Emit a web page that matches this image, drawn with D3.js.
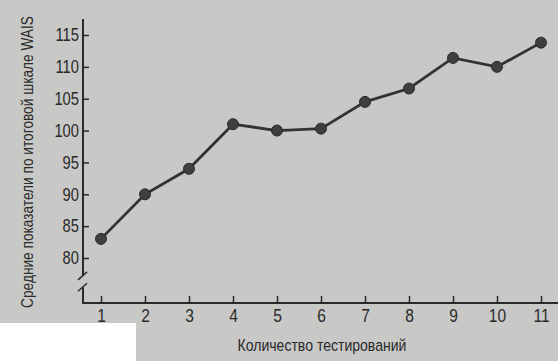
<!DOCTYPE html>
<html>

<head>
    <meta charset="utf-8">
    <style>
        body {
            margin: 0;
            background: #c8c8c6;
        }

        svg {
            display: block;
            font-family: 'Liberation Sans', Arial, sans-serif;
        }

        .y .domain,
        .x .domain {
            display: none;
        }

        .tick line {
            stroke: #2a2a2a;
            stroke-width: 1.5px;
        }

        .y .tick text {
            font-size: 18px;
            fill: #2a2a2a;
        }

        .x .tick text {
            font-size: 19px;
            fill: #2a2a2a;
        }

        .label {
            font-size: 17px;
            fill: #2a2a2a;
        }
    </style>
</head>

<body>
    <svg width="558" height="361"></svg>
</body>

<script src="https://d3js.org/d3.v7.min.js"></script>

<script>
    // Количество тестирований
    let tests = [1, 2, 3, 4, 5, 6, 7, 8, 9, 10, 11]
    // Средние показатели WAIS
    let scores = [83, 90, 94, 101, 100, 100.3, 104.5, 106.6, 111.4, 110, 113.8]
    let yTicks = [80, 85, 90, 95, 100, 105, 110, 115]

    let data = tests.map(function (t, i) {
        return { test: t, score: scores[i] }
    })

    let svg = d3.select("svg")

    // white corner of the scanned page
    svg.append("rect")
        .attr("x", 0)
        .attr("y", 323)
        .attr("width", 136)
        .attr("height", 38)
        .attr("fill", "#ffffff")

    let axisX = 83
    let axisY = 303
    let narrow = 0.82 // squeeze text to look like a narrow typeface

    let x = d3.scaleLinear()
        .domain([1, 11])
        .range([101, 541])

    let y = d3.scaleLinear()
        .domain([80, 115])
        .range([258, 35])

    let yAxisSettings = d3.axisLeft(y)
        .tickValues(yTicks)
        .tickSize(-6) // ticks point inside
        .tickPadding(5)

    let xAxisSettings = d3.axisBottom(x)
        .tickValues(tests)
        .tickSize(-7)
        .tickPadding(6)
        .tickFormat(d3.format("d"))

    let yAxisTicks = svg.append("g")
        .attr("class", "y axis")
        .attr("transform", `translate(${axisX},0)`)
        .call(yAxisSettings)

    yAxisTicks.selectAll(".tick text")
        .attr("x", -4 / narrow)
        .attr("transform", `scale(${narrow},1)`)

    let xAxisTicks = svg.append("g")
        .attr("class", "x axis")
        .attr("transform", `translate(0,${axisY})`)
        .call(xAxisSettings)

    xAxisTicks.selectAll(".tick text")
        .attr("transform", `scale(${narrow},1)`)

    // axis lines with a break below 80
    let axisLines = svg.append("g")
        .attr("stroke", "#2a2a2a")
        .attr("stroke-width", 2)
        .attr("fill", "none")

    let breakTop = y(77.2)
    let breakBottom = y(75.4)

    axisLines.append("path")
        .attr("d", `M${axisX},${y(117.5)}V${breakTop}`)
    axisLines.append("path")
        .attr("d", `M${axisX},${breakBottom}V${axisY}H558`)
    axisLines.append("path")
        .attr("d", `M${axisX - 5},${breakTop + 4}L${axisX + 4},${breakTop - 4}`)
        .attr("stroke-width", 1.5)
    axisLines.append("path")
        .attr("d", `M${axisX - 5},${breakBottom + 4}L${axisX + 4},${breakBottom - 4}`)
        .attr("stroke-width", 1.5)

    let line = d3.line()
        .x(function (d) { return x(d.test) })
        .y(function (d) { return y(d.score) })

    svg.append("path")
        .datum(data)
        .attr("d", line)
        .style("fill", "none")
        .style("stroke", "#333")
        .style("stroke-width", "2.8px")

    svg.append("g")
        .selectAll("circle")
        .data(data)
        .join("circle")
        .attr("cx", d => x(d.test))
        .attr("cy", d => y(d.score))
        .attr("r", 5.5)
        .attr("fill", "#3f3f3f")
        .attr("stroke", "#2a2a2a")
        .attr("stroke-width", 1)

    // axis titles, squeezed to the width they have in the original
    let xTitle = svg.append("text")
        .attr("class", "label")
        .attr("text-anchor", "middle")
        .text("Количество тестирований")
    let xs = 169 / xTitle.node().getComputedTextLength()
    xTitle.attr("transform", `translate(322,351) scale(${xs},1)`)

    let yTitle = svg.append("text")
        .attr("class", "label")
        .attr("text-anchor", "middle")
        .text("Средние показатели по итоговой шкале WAIS")
    let ys = 292 / yTitle.node().getComputedTextLength()
    yTitle.attr("transform", `translate(33,162) rotate(-90) scale(${ys},1)`)
</script>

</html>
